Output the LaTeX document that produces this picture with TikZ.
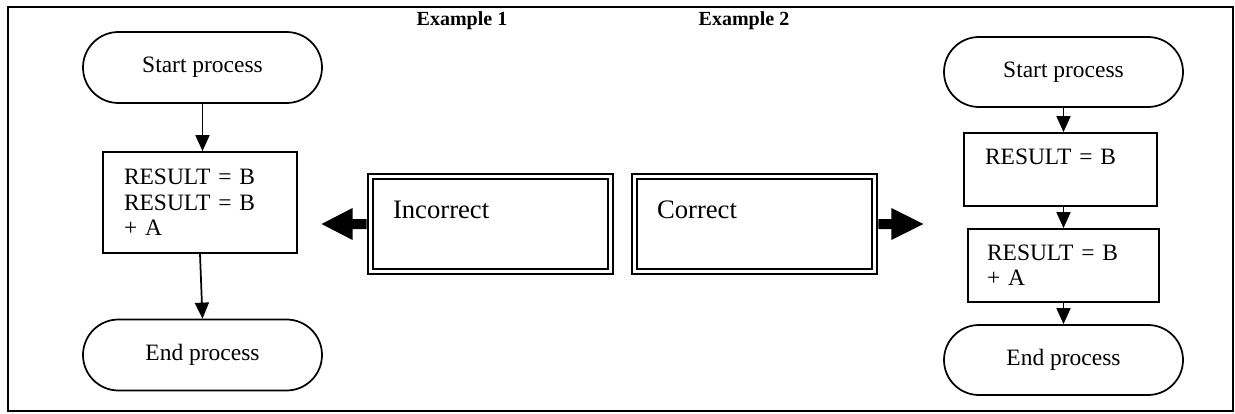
\documentclass[tikz,border=0pt]{standalone}
\usepackage{fontspec}
\setmainfont{Liberation Serif}
\usetikzlibrary{shapes.misc,arrows.meta}
\newlength\pxu
\setlength\pxu{0.75pt}
\tikzset{
  term/.style={rounded rectangle, draw, line width=1.3pt, minimum width=239\pxu, minimum height=71\pxu, inner sep=0pt, font=\fontsize{17.6pt}{19pt}\selectfont},
  procbox/.style={rectangle, draw, line width=1.3pt, align=left, inner ysep=0pt, font=\fontsize{17.6pt}{19pt}\selectfont},
  dblbox/.style={rectangle, draw, line width=2.2pt, align=left, inner ysep=0pt, minimum width=245\pxu, minimum height=100\pxu, text width=195\pxu, inner xsep=25\pxu, font=\fontsize{20pt}{21pt}\selectfont},
  conn/.style={line width=1.3pt, -{Triangle[length=12pt,width=10.5pt]}},
  exlabel/.style={font=\fontsize{15pt}{17pt}\selectfont\bfseries, inner sep=0pt},
  blockarrow/.style={fill=black, draw=none}
}
\begin{document}
\begin{tikzpicture}[x=0.75pt,y=-0.75pt]
\useasboundingbox (0,0) rectangle (1235,414);
\draw[line width=1.3pt] (8,7) rectangle (1233,411);

% labels
\node[exlabel] (ex1) at (462,21) {Example 1};
\node[exlabel] (ex2) at (744,21) {Example 2};

% left flow
\node[term] (s1) at (202.5,67.5) {Start process};
\node[procbox, minimum height=101\pxu, text width=152\pxu, inner xsep=21\pxu] (b1) at (200,202.5) {RESULT = B\\RESULT = B\\+ A};
\node[term] (e1) at (202.5,355) {End process};
\draw[conn] (s1.south) -- (s1.south |- b1.north);
\draw[conn] (b1.south) -- (e1.north);

% middle boxes
\node[dblbox] (inc) at (490.5,224) {Incorrect\\ \mbox{}};
\draw[line width=1.5pt] ([shift={(6,6)}]inc.north west) rectangle ([shift={(-6,-6)}]inc.south east);
\node[dblbox] (cor) at (754.5,224) {Correct\\ \mbox{}};
\draw[line width=1.5pt] ([shift={(6,6)}]cor.north west) rectangle ([shift={(-6,-6)}]cor.south east);

% block arrows
\fill[blockarrow] (inc.west) ++(0,-5) -- ++(-14,0) -- ++(0,-11) -- ++(-31,16) -- ++(31,16) -- ++(0,-11) -- ++(14,0) -- cycle;
\fill[blockarrow] (cor.east) ++(0,-5) -- ++(13,0) -- ++(0,-11) -- ++(32,16) -- ++(-32,16) -- ++(0,-11) -- ++(-13,0) -- cycle;

% right flow
\node[term, minimum height=70\pxu] (s2) at (1063.5,72) {Start process};
\node[procbox, minimum height=73\pxu, text width=151\pxu, inner xsep=21\pxu] (r1) at (1060.5,169.5) {RESULT = B\\ \mbox{}};
\node[procbox, minimum height=73\pxu, text width=153\pxu, inner xsep=19\pxu] (r2) at (1063.5,265.5) {RESULT = B\\+ A};
\node[term, minimum height=70\pxu] (e2) at (1063.5,360) {End process};
\draw[conn] (s2.south) -- (s2.south |- r1.north);
\draw[conn] (s2.south |- r1.south) -- (s2.south |- r2.north);
\draw[conn] (s2.south |- r2.south) -- (e2.north);
\end{tikzpicture}
\end{document}
